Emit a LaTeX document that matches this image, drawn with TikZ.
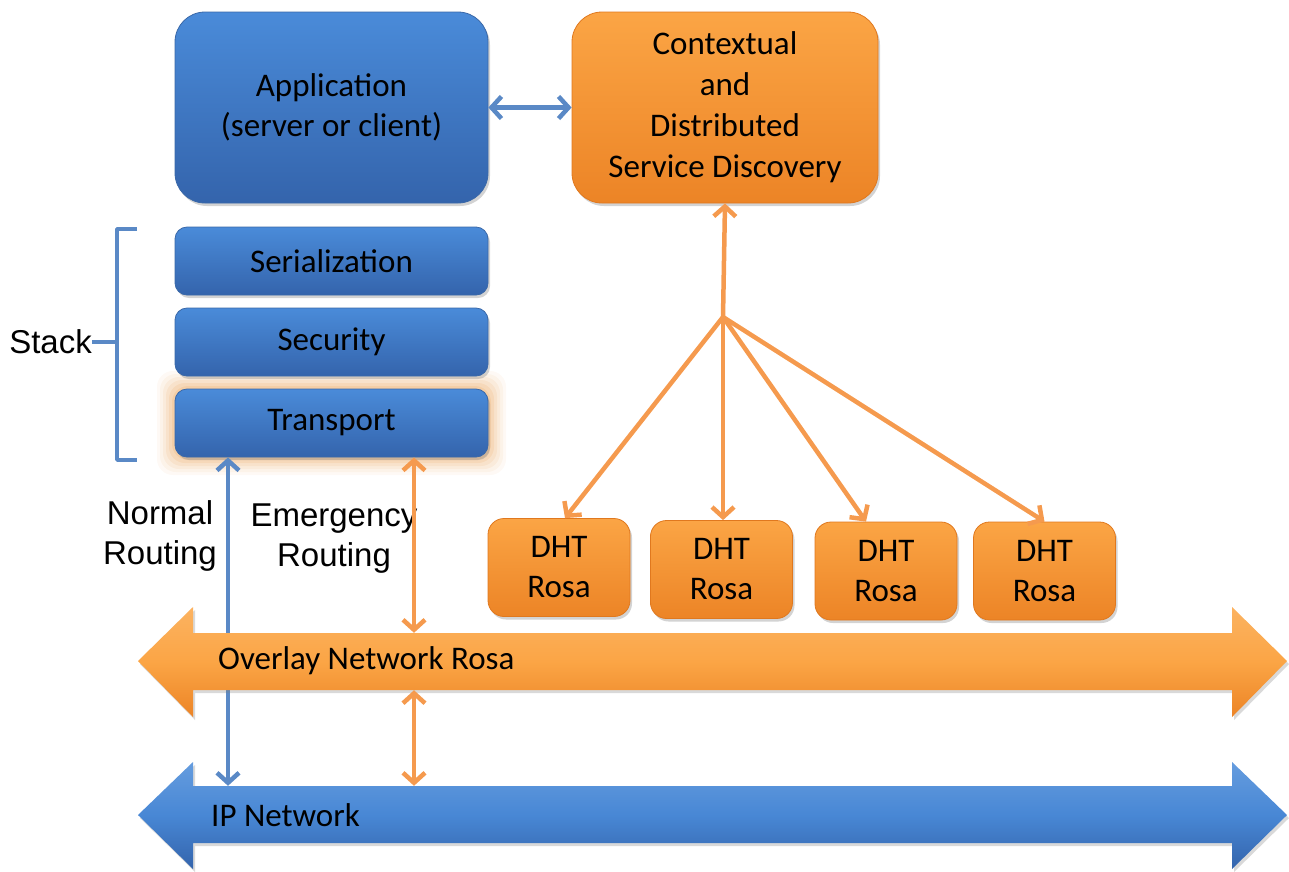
\documentclass[tikz,border=0pt]{standalone}
\usepackage{fontspec}
\setmainfont{Carlito}
\newfontfamily\arialf{Liberation Sans}
\usetikzlibrary{arrows.meta,shadows}
\definecolor{bluetop}{HTML}{4A8BD9}
\definecolor{bluebot}{HTML}{3464AC}
\definecolor{bluedraw}{HTML}{3A68A8}
\definecolor{orgtop}{HTML}{FBA545}
\definecolor{orgbot}{HTML}{EC8426}
\definecolor{orgdraw}{HTML}{E0781E}
\definecolor{bline}{HTML}{5A89C6}
\definecolor{oline}{HTML}{F59A4E}
\definecolor{glow}{HTML}{EDB070}
\tikzset{
  vb/.tip={Straight Barb[length=10pt,width=22pt]},
  boxfont/.style={font=\fontsize{33}{40}\selectfont},
  labfont/.style={font=\arialf\fontsize{33}{40}\selectfont},
  bluebox/.style={draw=bluedraw, line width=0.8pt, top color=bluetop, bottom color=bluebot,
     text=black, boxfont, align=center, inner sep=0pt,
     drop shadow={opacity=0.35, shadow xshift=2pt, shadow yshift=-3pt}},
  orgbox/.style={draw=orgdraw, line width=0.8pt, top color=orgtop, bottom color=orgbot,
     text=black, boxfont, align=center, inner sep=0pt,
     drop shadow={opacity=0.35, shadow xshift=2pt, shadow yshift=-3pt}},
  stackbox/.style={bluebox, rounded corners=12pt, minimum width=313pt, minimum height=68pt},
  dhtbox/.style={orgbox, rounded corners=16pt, minimum width=142pt, minimum height=98pt,
     font=\fontsize{33}{40}\selectfont},
  bconn/.style={draw=bline, line width=4.5pt, {vb}-{vb}},
  oconn/.style={draw=oline, line width=4.5pt},
  obarb/.style={-{vb}},
  blockarrow/.style={draw=none, drop shadow={opacity=0.3, shadow xshift=2pt, shadow yshift=-3pt}},
  shaft/.style={draw=none, inner sep=0pt, minimum height=57pt, minimum width=1039pt},
}
\begin{document}
\begin{tikzpicture}[x=1pt,y=-1pt]
\useasboundingbox (0,0) rectangle (1289,871);

% top boxes
\node[bluebox, rounded corners=30pt, minimum width=313pt, minimum height=191pt] (app) at (331.5,107.5) {Application\\(server or client)};
\node[orgbox, rounded corners=30pt, minimum width=306pt, minimum height=191pt, font=\fontsize{33}{41}\selectfont] (cds) at (725,107.5) {Contextual\\and\\Distributed\\Service Discovery};
\draw[bconn] (app.east) -- (cds.west);

% glow around transport
\foreach \d/\o in {18/0.07,15/0.09,12/0.12,9/0.15,6/0.2,3/0.25}
  \fill[glow, opacity=\o, rounded corners=16pt] (175-\d,389-\d) rectangle (488+\d,457+\d);

% stack
\node[stackbox] (ser) at (331.5,261) {Serialization};
\node[stackbox] (sec) at (331.5,342) {Security};
\node[stackbox] (tra) at (331.5,423) {Transport};

% bracket and Stack label
\node[labfont, anchor=east, inner sep=0pt] (stack) at (92,342) {Stack};
\coordinate (brk) at (117,342);
\draw[bline, line width=3.5pt, line join=round] (137,229) -- (117,229) -- (117,460) -- (137,460);
\draw[bline, line width=3.5pt] (stack.east) -- (brk);

% routing labels
\node[labfont, align=center, inner sep=0pt] (nr) at (160,536) {Normal\\Routing};
\node[labfont, align=center, inner sep=0pt] (er) at (334,539) {Emergency\\Routing};

% DHT boxes
\node[dhtbox] (d1) at (559,567.5) {DHT\\Rosa};
\node[dhtbox] (d2) at (721.5,569.5) {DHT\\Rosa};
\node[dhtbox] (d3) at (886,571) {DHT\\Rosa};
\node[dhtbox] (d4) at (1044.5,571) {DHT\\Rosa};

% fan connectors
\coordinate (fan) at (723,317);
\draw[oconn, line cap=round, {vb}-] (cds.south) -- (fan);
\draw[oconn, obarb] (fan) -- ([xshift=6pt]d1.north);
\draw[oconn, obarb] (fan) -- ([xshift=1.5pt]d2.north);
\draw[oconn, obarb] (fan) -- ([xshift=-20pt]d3.north);
\draw[oconn, obarb] (fan) -- (d4.north);

% network shafts (anchors)
\node[shaft] (ovl) at (712.5,661.5) {};
\node[shaft] (ipn) at (712.5,814.5) {};
\coordinate (nx) at (228,0);
\coordinate (ex) at (414,0);

% normal routing (behind overlay)
\draw[bconn] (nx |- tra.south) -- (nx |- ipn.north);

% block arrows
\path[blockarrow, top color=orgtop!85!white, bottom color=orgbot, middle color=orgtop]
  (138,661) -- (193,607) -- (193,633) -- (1232,633) -- (1232,607) -- (1287,661)
  -- (1232,717) -- (1232,690) -- (193,690) -- (193,717) -- cycle;
\path[blockarrow, top color=bluetop!85!white, bottom color=bluebot, middle color=bluetop!90!bluebot]
  (138,815) -- (193,762) -- (193,786) -- (1232,786) -- (1232,762) -- (1287,815)
  -- (1232,869) -- (1232,843) -- (193,843) -- (193,869) -- cycle;
\node[boxfont, anchor=west, inner sep=0pt] (ovltxt) at (218,661) {Overlay Network Rosa};
\node[boxfont, anchor=west, inner sep=0pt] (iptxt) at (211,815) {IP Network};

% emergency routing
\draw[oconn, {vb}-{vb}] (ex |- tra.south) -- (ex |- ovl.north);
\draw[oconn, {vb}-{vb}] (ex |- ovl.south) -- (ex |- ipn.north);
\end{tikzpicture}
\end{document}
